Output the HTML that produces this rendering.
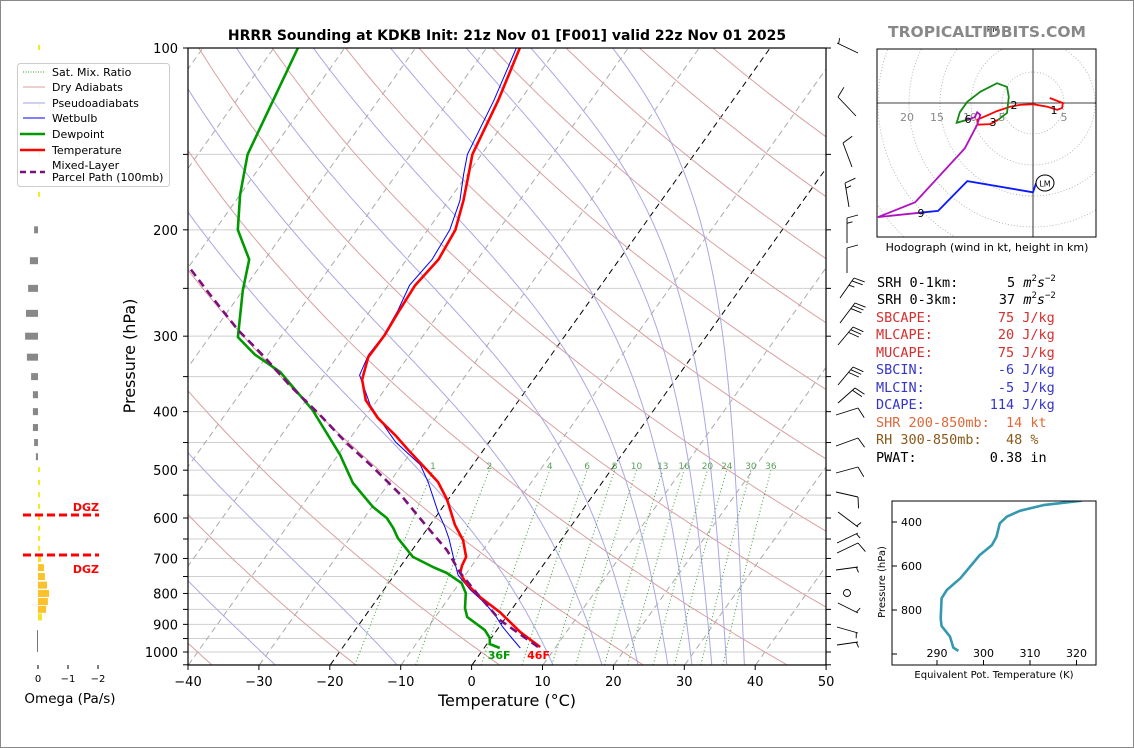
<!DOCTYPE html>
<html><head><meta charset="utf-8"><style>
html,body{margin:0;padding:0;background:#fff;}
svg{display:block;font-family:"DejaVu Sans","Liberation Sans",sans-serif;}
</style></head><body>
<svg id="svg" width="1134" height="748" viewBox="0 0 1134 748" xmlns="http://www.w3.org/2000/svg">
<rect x="0.5" y="0.5" width="1133" height="747" fill="#fff" stroke="#888"/>
<defs><clipPath id="plotclip"><rect x="188" y="48" width="638" height="617"/></clipPath>
<clipPath id="hodoclip"><rect x="877" y="49" width="219" height="188"/></clipPath>
<clipPath id="theclip"><rect x="892" y="501" width="204" height="164"/></clipPath></defs>
<g id="bg" clip-path="url(#plotclip)"></g>
<g id="traces" clip-path="url(#plotclip)"></g>
<g id="axes"></g>
<g id="omega"></g>
<g id="barbs"></g>
<g id="hodo"></g>
<g id="thetae"></g>
<text x="507" y="40" text-anchor="middle" font-size="14" font-weight="bold">HRRR Sounding at KDKB Init: 21z Nov 01 [F001] valid 22z Nov 01 2025</text>
<text x="987" y="37" text-anchor="middle" font-size="15.5" font-weight="bold" fill="#888">TROPICALTIDBITS.COM</text>
<g font-family="'DejaVu Sans Mono','Liberation Mono',monospace" font-size="13.5">
<text x="877" y="287" xml:space="preserve">SRH 0-1km:      5 <tspan font-style="italic">m</tspan><tspan font-size="9" dy="-6">2</tspan><tspan font-style="italic" dy="6">s</tspan><tspan font-size="9" dy="-6">−2</tspan></text>
<text x="877" y="304" xml:space="preserve">SRH 0-3km:     37 <tspan font-style="italic">m</tspan><tspan font-size="9" dy="-6">2</tspan><tspan font-style="italic" dy="6">s</tspan><tspan font-size="9" dy="-6">−2</tspan></text>
<text x="876" y="322" fill="#d62f2f" xml:space="preserve">SBCAPE:        75 J/kg</text>
<text x="876" y="339" fill="#d62f2f" xml:space="preserve">MLCAPE:        20 J/kg</text>
<text x="876" y="357" fill="#d62f2f" xml:space="preserve">MUCAPE:        75 J/kg</text>
<text x="876" y="374" fill="#3535c8" xml:space="preserve">SBCIN:         -6 J/kg</text>
<text x="876" y="392" fill="#3535c8" xml:space="preserve">MLCIN:         -5 J/kg</text>
<text x="876" y="409" fill="#3535c8" xml:space="preserve">DCAPE:        114 J/kg</text>
<text x="876" y="427" fill="#dd6a3a" xml:space="preserve">SHR 200-850mb:  14 kt</text>
<text x="876" y="444" fill="#8b5a1a" xml:space="preserve">RH 300-850mb:   48 %</text>
<text x="876" y="462" xml:space="preserve">PWAT:         0.38 in</text>
</g>
<g id="legend" font-size="11">
<rect x="17.5" y="63.5" width="152" height="123" rx="3" fill="#fff" fill-opacity="0.85" stroke="#ccc"/>
<line x1="23" y1="72" x2="45" y2="72" stroke="#2a9a2a" stroke-dasharray="1,1.5"/><text x="52" y="76">Sat. Mix. Ratio</text>
<line x1="23" y1="87" x2="45" y2="87" stroke="#d9a0a0"/><text x="52" y="91">Dry Adiabats</text>
<line x1="23" y1="103" x2="45" y2="103" stroke="#a0a0e0"/><text x="52" y="107">Pseudoadiabats</text>
<line x1="23" y1="118" x2="45" y2="118" stroke="#0000ff"/><text x="52" y="122">Wetbulb</text>
<line x1="20" y1="134" x2="45" y2="134" stroke="#009900" stroke-width="2.5"/><text x="52" y="138">Dewpoint</text>
<line x1="20" y1="150" x2="45" y2="150" stroke="#ff0000" stroke-width="2.5"/><text x="52" y="154">Temperature</text>
<line x1="20" y1="172" x2="45" y2="172" stroke="#7b0f7b" stroke-width="2.5" stroke-dasharray="6,4"/><text x="52" y="169">Mixed-Layer</text><text x="52" y="181">Parcel Path (100mb)</text>
</g>
</svg>
<script>
// ---- data ----
const tempP=[981,927,859,811,769,740,720,696,653,616,560,523,496,463,437,410,383,354,325,299,272,247,224,200,179,162,150,122,100];
const tempT=[7.8,3.5,-1.4,-5.7,-9.1,-10.9,-11.4,-11.7,-13.8,-16.5,-20.1,-23.2,-26.4,-30.6,-34.0,-38.1,-41.6,-44.2,-45.6,-45.5,-45.9,-46.2,-45.5,-46.1,-47.9,-49.8,-51.3,-53.1,-55.3];
const dewP=[985,970,948,920,875,846,799,769,740,723,696,648,623,600,575,525,472,429,397,368,344,322,301,252,224,200,175,150,100];
const dewT=[2.2,0.4,-0.2,-1.7,-5.5,-6.7,-8.1,-9.7,-12.8,-15.4,-19.2,-23.2,-24.9,-26.8,-29.9,-35.1,-39.7,-44.4,-48.2,-52.6,-56.5,-61.8,-66,-70.0,-72.2,-76.8,-80.0,-83.0,-86.6];
const wbP=[985,948,909,868,830,789,746,696,650,621,586,523,490,449,413,390,348,322,299,272,247,224,200,179,162,150,122,100];
const wbT=[5.1,2.9,0.5,-1.8,-4.4,-7.8,-11.0,-13.5,-15.9,-17.7,-20.2,-24.6,-27.4,-33.2,-37.6,-40.5,-45.0,-45.8,-45.6,-46.1,-47.0,-46.4,-46.9,-48.4,-50.5,-52.0,-53.7,-55.8];
const parcelP=[981,885,811,740,678,621,549,494,451,405,362,325,293,256,229];
const parcelT=[7.5,-0.6,-5.7,-10.9,-15.1,-20.2,-27.2,-33.9,-40.0,-46.6,-53.8,-60.2,-66.7,-74.2,-80.3];
const omegaP=[700,725,750,775,800,825,850,875,200,225,250,275,300,325,350,375,400,425,450,475];
const omegaV=[-0.1,-0.2,-0.23,-0.3,-0.37,-0.33,-0.27,-0.13,0.13,0.27,0.33,0.4,0.43,0.37,0.23,0.17,0.17,0.17,0.13,0.07];
const hodoRedU=[2.7,4.8,4.7,3.9,2.3,0,-2.1,-3.7,-5.8,-8.1,-9,-8.9,-6.9,-5.6];
const hodoRedV=[0.8,0,-0.8,-1.1,-0.6,-0.2,-0.3,-0.6,-1.3,-2.3,-2.7,-3.5,-3.4,-2.7];
const hodoGreenU=[-5.6,-4.2,-3.9,-4.2,-5.8,-8.5,-10.6,-11.8,-12.3,-10.6];
const hodoGreenV=[-2.7,-1.6,1,2.6,3.2,1.8,0.2,-1.5,-3.2,-2.7];
const hodoMagU=[-10.6,-9.4,-9,-8.5,-9,-11,-19,-25,-18.2];
const hodoMagV=[-2.7,-2.3,-1.5,-1.9,-3.5,-7.3,-16,-18.4,-17.7];
const hodoBlueU=[-18.2,-15.3,-10.6,0,0.5];
const hodoBlueV=[-17.7,-17.4,-12.6,-14.4,-12.9];
const thetaeK=[294.6,293.5,292.8,291.0,290.8,291.0,292.1,295.0,299.2,301.8,302.8,303.5,305.0,307.8,312.9,321.1];
const thetaeP=[986,971,921,873,838,747,709,656,550,505,467,406,376,349,323,303];
const xTickLabels=[-40,-30,-20,-10,0,10,20,30,40,50];
const pTickLabels=[100,200,300,400,500,600,700,800,900,1000];
const mixRatios=[1,2,4,6,8,10,13,16,20,24,30,36];
const barbStaffs=[[858,53,837,43,0,1],[856,116,838,97,1,0],[852,167,843,143,1,0],[849,207,845,183,1,1],[847,243,847,218,1,1],[847,273,847,248,1,0],[840,298,854,278,2,1],[840,323,855,303,3,0],[838,345,853,327,3,0],[838,385,853,367,3,0],[838,403,855,388,2,0],[836,415,858,408,1,0],[836,446,858,438,1,0],[836,473,858,467,1,0],[836,492,858,497,1,0],[838,512,858,527,0,1],[837,543,858,533,0,1],[837,553,858,543,1,0],[836,570,858,567,0,1],[838,603,858,613,0,1],[837,627,858,633,0,1],[837,645,858,642,0,1]];

const NS='http://www.w3.org/2000/svg';
function mk(tag,attrs,parent){const e=document.createElementNS(NS,tag);for(const k in attrs)e.setAttribute(k,attrs[k]);parent.appendChild(e);return e;}
function yP(p){return 652+604*Math.log10(p/1000);}
function xT(T,p){return 472+7.09*T+0.713*(665-yP(p));}
function pathFrom(ps,ts){return ps.map((p,i)=>(i?'L':'M')+xT(ts[i],p).toFixed(1)+','+yP(p).toFixed(1)).join('');}
const bg=document.getElementById('bg'),tr=document.getElementById('traces'),ax=document.getElementById('axes');

for(let p=100;p<=1050;p+=50){const l=mk('line',{x1:188,x2:826,y1:yP(p),y2:yP(p),stroke:'#cfcfcf','stroke-width':1},bg);

}
for(let T=-130;T<=50;T+=10){const l=mk('line',{x1:xT(T,1050),y1:yP(1050),x2:xT(T,100),y2:yP(100),stroke:(T==0||T==-20)?'#000':'#aaa','stroke-width':1,'stroke-dasharray':'6,4'},bg);

}
for(let th=-60;th<=200;th+=20){let d='';for(let p=1050;p>=100;p-=10){const T=(th+273.15)*Math.pow(p/1000,0.2857)-273.15;d+=(p==1050?'M':'L')+xT(T,p).toFixed(1)+','+yP(p).toFixed(1);}
const l=mk('path',{d:d,fill:'none',stroke:'#d9a0a0','stroke-width':1},bg);

}
function es(Tc){return 6.112*Math.exp(17.67*Tc/(Tc+243.5));}
[-64,-46,-27.8,-10.6,11.4,18.3,23.4,27.6,31,33.8,35.9,38.4].forEach(t0=>{let T=t0+273.15,d='';for(let p=1050;p>=100;p-=2){d+=(p==1050?'M':'L')+xT(T-273.15,p).toFixed(1)+','+yP(p).toFixed(1);const e=es(T-273.15);const rs=0.622*e/(p-e);const dTdp=(287*T+2.5e6*rs)/(1005+2.5e6*2.5e6*rs*0.622/(287*T*T))/p;T-=dTdp*2;}
const l=mk('path',{d:d,fill:'none',stroke:'#a8a8e4','stroke-width':1},bg);

});
function tdw(w,p){const e=w*p/(622+w);const a=Math.log(e/6.112);return 243.5*a/(17.67-a);}
mixRatios.forEach(w=>{let d='';for(let p=1050;p>=500;p-=10){d+=(p==1050?'M':'L')+xT(tdw(w,p),p).toFixed(1)+','+yP(p).toFixed(1);}
const l=mk('path',{d:d,fill:'none',stroke:'#3a9a3a','stroke-width':1,'stroke-dasharray':'1,2.5'},bg);


const t=mk('text',{x:xT(tdw(w,500),500),y:469,'text-anchor':'middle','font-size':9,fill:'#5aa05a'},bg);t.textContent=w;

});
let e;
e=mk('path',{d:pathFrom(wbP,wbT),fill:'none',stroke:'#0000ff','stroke-width':1},tr);


e=mk('path',{d:pathFrom(dewP,dewT),fill:'none',stroke:'#009900','stroke-width':2.6,'stroke-linejoin':'round'},tr);


e=mk('path',{d:pathFrom(tempP,tempT),fill:'none',stroke:'#ff0000','stroke-width':2.6,'stroke-linejoin':'round'},tr);


e=mk('path',{d:pathFrom(parcelP,parcelT),fill:'none',stroke:'#7b0f7b','stroke-width':2.6,'stroke-dasharray':'8,5'},tr);


e=mk('text',{x:xT(dewT[0],dewP[0])-12,y:659,'font-size':11,'font-weight':'bold',fill:'#009900'},tr);e.textContent=Math.round(dewT[0]*9/5+32)+'F';


e=mk('text',{x:xT(tempT[0],tempP[0])-13,y:659,'font-size':11,'font-weight':'bold',fill:'#ff0000'},tr);e.textContent=Math.round(tempT[0]*9/5+32)+'F';


e=mk('rect',{x:188,y:48,width:638,height:617,fill:'none',stroke:'#000','stroke-width':1.2},ax);


xTickLabels.forEach(T=>{const x=188+(T+40)*7.09;mk('line',{x1:x,x2:x,y1:665,y2:670,stroke:'#000'},ax);
const t=mk('text',{x:x,y:686,'text-anchor':'middle','font-size':13},ax);t.textContent=T<0?'−'+(-T):T;

});
for(let p=100;p<=1050;p+=50){const y=yP(p);mk('line',{x1:183,x2:188,y1:y,y2:y,stroke:'#000'},ax);mk('line',{x1:826,x2:831,y1:y,y2:y,stroke:'#000'},ax);}
pTickLabels.forEach(p=>{const t=mk('text',{x:178,y:yP(p)+5,'text-anchor':'end','font-size':13},ax);t.textContent=p;

});
e=mk('text',{x:507,y:706,'text-anchor':'middle','font-size':16},ax);e.textContent='Temperature (°C)';


e=mk('text',{x:0,y:0,'text-anchor':'middle','font-size':16,transform:'translate(135,356) rotate(-90)'},ax);e.textContent='Pressure (hPa)';



const om=document.getElementById('omega');
for(let p=100;p<=675;p+=25){if(p>=200&&p<=475)continue;e=mk('rect',{x:38,y:yP(p)-3,width:2,height:5,fill:'#f5ea20'},om);

}
e=mk('line',{x1:37.5,x2:37.5,y1:yP(920),y2:yP(1000),stroke:'#777'},om);


omegaP.forEach((p,i)=>{const v=omegaV[i];const w=Math.abs(v)*30;const x=v<0?38:38-w;const y=yP(p);
const c=v>0?'#888':(Math.abs(v)<0.15?'#f4e225':'#fbc22c');
const r=mk('rect',{x:x,y:y-3.5,width:Math.max(w,1.5),height:7,fill:c},om);

});
[[515,507],[555,569]].forEach(([y,ty])=>{e=mk('line',{x1:23,x2:99,y1:y,y2:y,stroke:'#ff0000','stroke-width':3,'stroke-dasharray':'8,4'},om);


const t=mk('text',{x:99,y:ty+4,'text-anchor':'end','font-size':11,'font-weight':'bold',fill:'#ff0000'},om);t.textContent='DGZ';

});
[[0,'0'],[-1,'−1'],[-2,'−2']].forEach(([v,s])=>{const x=38-v*30;mk('line',{x1:x,x2:x,y1:665,y2:669,stroke:'#000'},om);
const t=mk('text',{x:x,y:682,'text-anchor':'middle','font-size':10},om);t.textContent=s;

});
e=mk('text',{x:70,y:703,'text-anchor':'middle','font-size':13.5},om);e.textContent='Omega (Pa/s)';



const bb=document.getElementById('barbs');
barbStaffs.forEach(b=>{const [x1,y1,x2,y2,nf,nh]=b;const dx=x2-x1,dy=y2-y1,L=Math.hypot(dx,dy),ux=dx/L,uy=dy/L;
let px=-uy,py=ux; if(px<0){px=-px;py=-py;} if(Math.abs(px)<0.3&&py<0){px=-px;py=-py;}
let d='M'+x1+','+y1+'L'+x2+','+y2;let k=0;
for(let i=0;i<nf;i++){const sx=x2-ux*k*3.5,sy=y2-uy*k*3.5;d+='M'+sx.toFixed(1)+','+sy.toFixed(1)+'l'+(px*11+ux*3).toFixed(1)+','+(py*11+uy*3).toFixed(1);k++;}
for(let i=0;i<nh;i++){const sx=x2-ux*(k+0.5)*3.5,sy=y2-uy*(k+0.5)*3.5;d+='M'+sx.toFixed(1)+','+sy.toFixed(1)+'l'+(px*5.5+ux*1.5).toFixed(1)+','+(py*5.5+uy*1.5).toFixed(1);k++;}
const p=mk('path',{d:d,fill:'none',stroke:'#000','stroke-width':0.9},bb);

});
e=mk('circle',{cx:847,cy:593,r:3.5,fill:'none',stroke:'#000','stroke-width':0.9},bb);



const hd=document.getElementById('hodo');const hx0=1033,hy0=103,hs=6.2;
const hin=mk('g',{'clip-path':'url(#hodoclip)'},hd);
for(let r=5;r<=40;r+=5){e=mk('circle',{cx:hx0,cy:hy0,r:r*hs,fill:'none',stroke:'#aaa','stroke-width':0.8,'stroke-dasharray':'1,2'},hin);

}
mk('line',{x1:877,x2:1096,y1:hy0,y2:hy0,stroke:'#000','stroke-width':0.8},hin);
mk('line',{x1:hx0,x2:hx0,y1:49,y2:237,stroke:'#000','stroke-width':0.8},hin);
[[20,907],[15,937],[10,970],[5,1002],[5,1064]].forEach(([v,x])=>{const t=mk('text',{x:x,y:121,'text-anchor':'middle','font-size':11,fill:'#888'},hin);t.textContent=v;

});
function hpath(u,v){return u.map((a,i)=>(i?'L':'M')+(hx0+a*hs).toFixed(1)+','+(hy0-v[i]*hs).toFixed(1)).join('');}
[[hodoRedU,hodoRedV,'#ff0000','hodo-0-3km'],[hodoGreenU,hodoGreenV,'#138a13','hodo-3-6km'],[hodoMagU,hodoMagV,'#b010c0','hodo-6-9km'],[hodoBlueU,hodoBlueV,'#0a1aff','hodo-9km-plus']].forEach(s=>{
const p=mk('path',{d:hpath(s[0],s[1]),fill:'none',stroke:s[2],'stroke-width':1.8},hin);

});
[['1',1054,114],['2',1014,109],['3',993,126],['6',968,123],['9',921,217]].forEach(([s,x,y])=>{const t=mk('text',{x:x,y:y,'text-anchor':'middle','font-size':11},hin);t.textContent=s;

});
e=mk('ellipse',{cx:1045,cy:183,rx:9,ry:8,fill:'#fff',stroke:'#000','stroke-width':1},hin);


e=mk('text',{x:1045,y:186.5,'text-anchor':'middle','font-size':8},hin);e.textContent='LM';


e=mk('rect',{x:877,y:49,width:219,height:188,fill:'none',stroke:'#000','stroke-width':1},hd);


e=mk('text',{x:993,y:32,'text-anchor':'middle','font-size':8},hd);e.textContent='RM';


e=mk('text',{x:987,y:251,'text-anchor':'middle','font-size':11},hd);e.textContent='Hodograph (wind in kt, height in km)';



const te=document.getElementById('thetae');
function tx(k){return 937+(k-290)*4.65;}function ty(p){return 522+(p-400)*0.22;}
e=mk('path',{d:thetaeK.map((k,i)=>(i?'L':'M')+tx(k).toFixed(1)+','+ty(thetaeP[i]).toFixed(1)).join(''),fill:'none',stroke:'#3499b0','stroke-width':2.6,'stroke-linejoin':'round','clip-path':'url(#theclip)'},te);


e=mk('rect',{x:892,y:501,width:204,height:164,fill:'none',stroke:'#000','stroke-width':1},te);


[290,300,310,320].forEach(k=>{mk('line',{x1:tx(k),x2:tx(k),y1:665,y2:660,stroke:'#000'},te);
const t=mk('text',{x:tx(k),y:657,'text-anchor':'middle','font-size':11},te);t.textContent=k;

});
[400,600,800,1000].forEach(p=>{mk('line',{x1:892,x2:897,y1:ty(p),y2:ty(p),stroke:'#000'},te);
if(p<1000){const t=mk('text',{x:901,y:ty(p)+4,'font-size':11},te);t.textContent=p;

}});
e=mk('text',{x:0,y:0,'text-anchor':'middle','font-size':10,transform:'translate(885,582) rotate(-90)'},te);e.textContent='Pressure (hPa)';


e=mk('text',{x:994,y:678,'text-anchor':'middle','font-size':10},te);e.textContent='Equivalent Pot. Temperature (K)';


</script>
</body></html>
